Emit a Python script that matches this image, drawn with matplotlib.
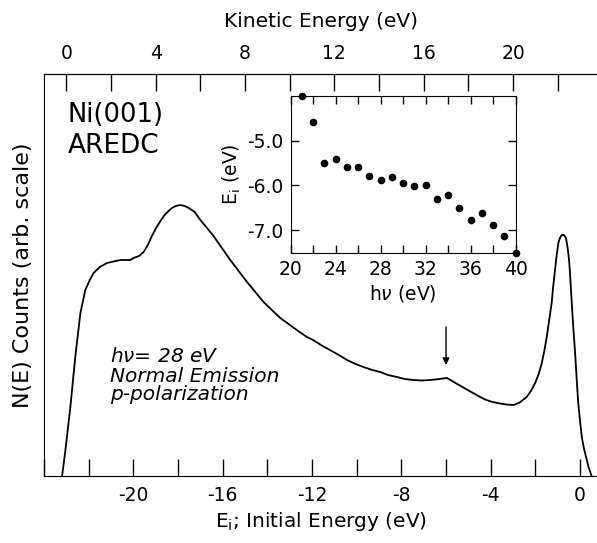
"""Ni(001) angle-resolved EDC with dispersion inset."""
import numpy as np
import matplotlib
matplotlib.use('Agg')
import matplotlib.pyplot as plt
from matplotlib.ticker import MultipleLocator

plt.rcParams['font.family'] = 'DejaVu Sans'
plt.rcParams['axes.unicode_minus'] = False

# main spectrum: initial energy (eV) vs counts (arb.)
energy = [-23.19, -23.04, -22.82, -22.6, -22.37, -22.15, -21.95, -21.78,
          -21.5, -21.18, -20.58, -20.13, -19.99, -19.75, -19.54, -19.35,
          -19.17, -18.98, -18.79, -18.6, -18.42, -18.27, -18.1, -17.9,
          -17.7, -17.52, -17.25, -17.0, -16.7, -16.41, -15.66, -14.91,
          -14.17, -13.8, -13.42, -13.05, -12.68, -12.23, -11.95, -11.6,
          -11.2, -10.8, -10.43, -10.05, -9.7, -9.3, -8.95, -8.6, -8.2,
          -7.85, -7.47, -7.1, -6.7, -6.3, -6.15, -5.96, -5.8, -5.5, -5.3,
          -5.07, -4.47, -4.25, -4.0, -3.8, -3.58, -3.3, -2.98, -2.7, -2.39,
          -2.2, -2.01, -1.85, -1.71, -1.6, -1.49, -1.38, -1.27, -1.2, -1.12,
          -1.05, -0.97, -0.9, -0.82, -0.72, -0.63, -0.56, -0.49, -0.43,
          -0.37, -0.3, -0.22, -0.15, -0.08, 0.0, 0.08, 0.17, 0.27, 0.38, 0.52]
counts = [0, 26, 69, 119, 163, 186, 196, 203, 209, 213, 216, 216, 218, 220,
          224, 231, 240, 248, 255, 261, 265, 268, 270, 271, 270, 268, 264,
          256, 248, 240, 216, 194, 174, 166, 158, 152, 146, 139, 136, 131,
          126, 121, 116, 112, 109, 106, 104, 101, 99, 97, 96, 95.5, 96, 97,
          97.5, 98, 96, 92, 89.5, 86.5, 79, 76.5, 74.5, 73.5, 72.5, 71.5, 71,
          73.5, 79, 85, 93, 102, 113, 125, 139, 156, 173, 190, 206, 220, 233,
          238, 241, 241, 238, 229, 216, 196, 173, 148, 123, 97, 73, 55, 39,
          28, 19, 9, 0]

# inset: photon energy vs initial-state energy
hv = [21, 22, 23, 24, 25, 26, 27, 28, 29, 30, 31, 32, 33, 34, 35, 36, 37, 38, 39, 40]
e_init = [-4.0, -4.59, -5.49, -5.41, -5.58, -5.59, -5.79, -5.89, -5.81, -5.94,
          -6.01, -6.0, -6.30, -6.22, -6.50, -6.78, -6.62, -6.88, -7.12, -7.5]

W, H = 597, 543
fig = plt.figure(figsize=(W / 100, H / 100), dpi=100)
ax = fig.add_axes([44 / W, 1 - 476 / H, 1 - 44 / W, (476 - 74) / H])

ax.plot(energy, counts, color='black', lw=1.3)
ax.set_xlim(-24, 0.76)
ax.set_ylim(0, 402)
ax.spines['right'].set_visible(False)
ax.set_yticks([])
ax.set_xticks([-20, -16, -12, -8, -4, 0])
ax.xaxis.set_minor_locator(MultipleLocator(2))
ax.tick_params(axis='x', which='both', direction='in', length=12, width=1,
               labelsize=13.5, pad=7)
ax.set_xlabel('E$_\\mathregular{i}$; Initial Energy (eV)', fontsize=14.5,
              labelpad=4)
ax.set_ylabel('N(E) Counts (arb. scale)', fontsize=16, labelpad=8)

# top axis: kinetic energy
top = ax.secondary_xaxis('top', functions=(lambda e: e + 23, lambda k: k - 23))
top.set_xticks([0, 4, 8, 12, 16, 20])
top.xaxis.set_minor_locator(MultipleLocator(2))
top.tick_params(axis='x', which='both', direction='in', length=12, width=1,
                labelsize=13.5, pad=8)
top.set_xlabel('Kinetic Energy (eV)', fontsize=14.5, labelpad=12)

fig.text(68 / W, 1 - 122 / H, 'Ni(001)', fontsize=18.5, va='baseline')
fig.text(68 / W, 1 - 153 / H, 'AREDC', fontsize=19, va='baseline')

fig.text(110 / W, 1 - 362 / H, 'h$\\nu$= 28 eV', fontsize=14.5,
         style='italic', va='baseline')
fig.text(110 / W, 1 - 382 / H, 'Normal Emission', fontsize=14.5,
         style='italic', va='baseline')
fig.text(110 / W, 1 - 400 / H, 'p-polarization', fontsize=14.5,
         style='italic', va='baseline')

ax.annotate('', xy=(-6.0, 111), xytext=(-6.0, 149),
            arrowprops=dict(arrowstyle='-|>', color='black', lw=1,
                            mutation_scale=10, shrinkA=0, shrinkB=0))

# inset
ins = fig.add_axes([290.7 / W, 1 - 252.7 / H, 225 / W, 157 / H])
ins.plot(hv, e_init, 'o', color='black', ms=4.5, clip_on=False)
ins.set_xlim(20, 40)
ins.set_ylim(-7.5, -4.0)
ins.set_xticks([20, 24, 28, 32, 36, 40])
ins.xaxis.set_minor_locator(MultipleLocator(2))
ins.set_yticks([-5, -6, -7])
ins.set_yticklabels(['-5.0', '-6.0', '-7.0'])
ins.tick_params(which='both', direction='in', top=True, right=True,
                length=6, width=1, labelsize=13.5, pad=5)
ins.set_xlabel('h$\\nu$ (eV)', fontsize=13.5, labelpad=3)
ins.set_ylabel('E$_\\mathregular{i}$ (eV)', fontsize=13.5, labelpad=3)

fig.savefig('out.png', dpi=100)
